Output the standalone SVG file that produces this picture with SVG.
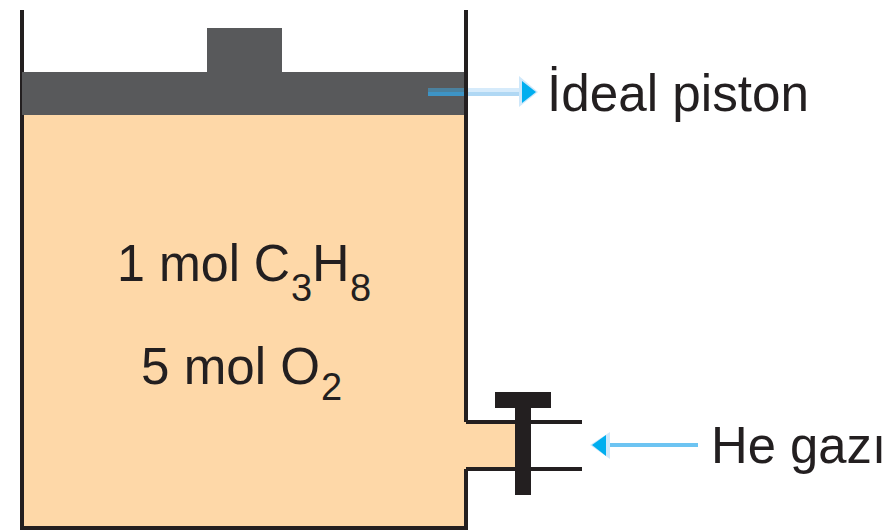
<svg xmlns="http://www.w3.org/2000/svg" width="895" height="531" viewBox="0 0 895 531">
<style>
.k{fill:#231f20}
.t{font-family:"Liberation Sans",Arial,sans-serif;font-size:52px;fill:#231f20}
.s{font-size:38px}
.w{fill:none;stroke:#231f20;stroke-width:4}
.h{fill:#cfe8fa}
.a{fill:#00aeef}
</style>
<rect width="895" height="531" fill="#fff"/>
<g id="vessel">
<path d="M22 115H466V422H517V469H466V528H22Z" fill="#fed8a8"/>
<path class="w" d="M22 10V528H466V469M466 422V10"/>
</g>
<g id="piston">
<rect x="22" y="72" width="444" height="43" fill="#58595b"/>
<rect x="207" y="28" width="75" height="44" fill="#58595b"/>
<rect x="464" y="10" width="4" height="412" class="k"/>
</g>
<g id="valve">
<path class="w" d="M466 422H582M466 469H582"/>
<rect class="k" x="495" y="392" width="56" height="16"/>
<rect class="k" x="515" y="408" width="16" height="87"/>
</g>
<g id="connectors">
<rect x="428" y="88" width="36" height="4" fill="#4a819f"/>
<rect x="428" y="92" width="36" height="4" fill="#3d94c6"/>
<rect x="468" y="88" width="52" height="4" fill="#d6ebfb"/>
<rect x="468" y="92" width="52" height="4" fill="#b0d8f4"/>
<path class="h" d="M519 76 538 92 519 107Z"/>
<path class="a" d="M522 81 536 92 522 103Z"/>
<rect x="606" y="443" width="92" height="4" fill="#6dc4f2"/>
<path class="h" d="M610 432 590 445 610 459Z"/>
<path class="a" d="M606 435 592 445 606 456Z"/>
</g>
<g id="labels">
<text class="t" x="547" y="111" textLength="262" lengthAdjust="spacingAndGlyphs">İdeal piston</text>
<text class="t" x="711" y="463" textLength="175" lengthAdjust="spacingAndGlyphs">He gazı</text>
<text class="t" x="117" y="281" textLength="173" lengthAdjust="spacingAndGlyphs">1 mol C</text>
<text class="t s" x="291" y="301">3</text>
<text class="t" x="312" y="281">H</text>
<text class="t s" x="350" y="301">8</text>
<text class="t" x="141" y="384" textLength="179" lengthAdjust="spacingAndGlyphs">5 mol O</text>
<text class="t s" x="321" y="400">2</text>
</g>
</svg>
